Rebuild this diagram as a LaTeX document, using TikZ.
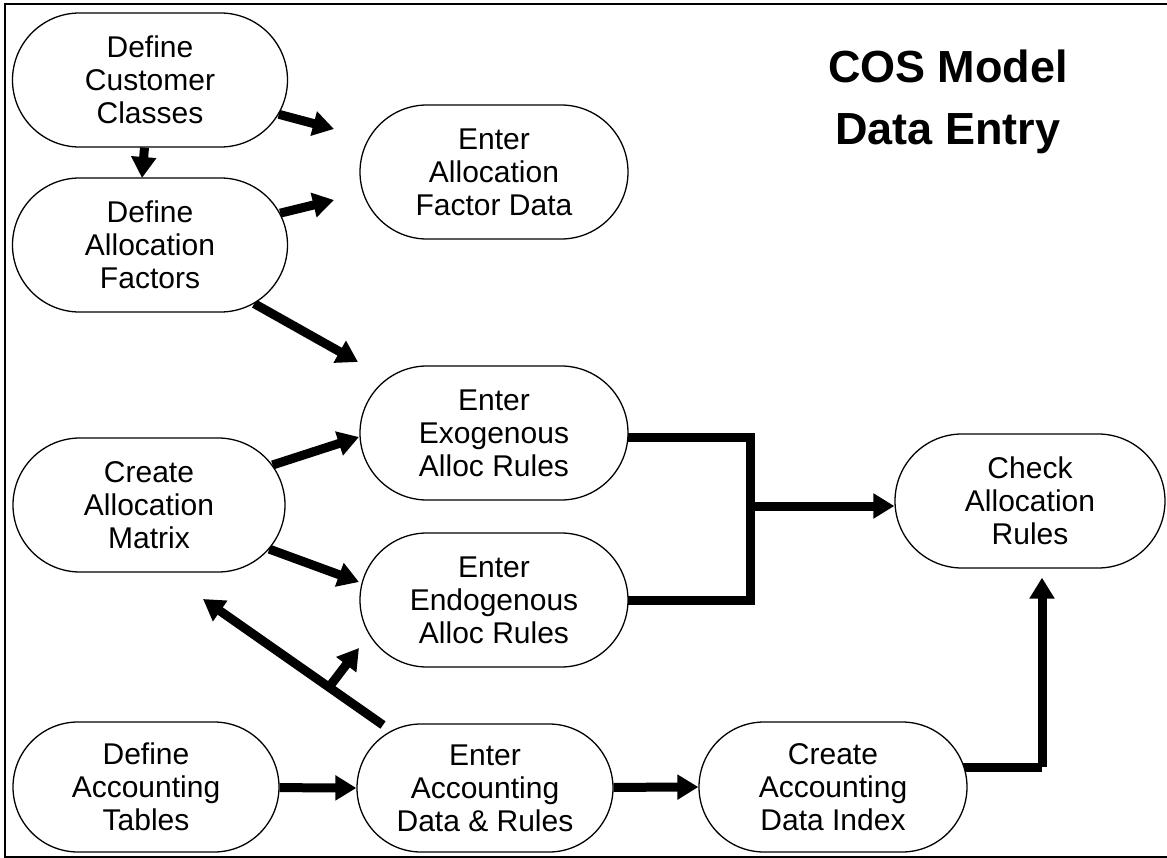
\documentclass[tikz,border=0pt]{standalone}
\usepackage{fontspec}
\setmainfont{Liberation Sans}
\usetikzlibrary{shapes.misc,arrows.meta,backgrounds,calc}
\begin{document}
\begin{tikzpicture}[x=1pt,y=-1pt,
  procbox/.style={rounded rectangle, draw, line width=1.3pt, fill=white,
    minimum width=#1, minimum height=134pt, inner sep=0pt,
    align=center, font=\fontsize{30}{33}\selectfont},
  procbox/.default=270pt,
  flow/.style={line width=9pt, -{Triangle[length=21pt,width=24pt]}},
  flowline/.style={line width=9pt}]
\useasboundingbox (0,0) rectangle (1167,858);
\draw[line width=1.2pt] (1167,4) -- (5,4) -- (5,857) -- (1167,857);

\node[procbox=275pt] (cust) at (150,80) {Define\\Customer\\Classes};
\node[procbox=275pt] (af) at (150,245) {Define\\Allocation\\Factors};
\node[procbox=268pt] (afd) at (494,172) {Enter\\Allocation\\Factor Data};
\node[procbox=268pt] (exo) at (494,433) {Enter\\Exogenous\\Alloc Rules};
\node[procbox=268pt] (endo) at (494,600) {Enter\\Endogenous\\Alloc Rules};
\node[procbox=272pt] (mat) at (149,505) {Create\\Allocation\\Matrix};
\node[procbox=270pt] (check) at (1030,501) {Check\\Allocation\\Rules};
\node[procbox=266pt, minimum height=130pt] (tab) at (146,787) {Define\\Accounting\\Tables};
\node[procbox=256pt, minimum height=128pt] (acc) at (485,788) {Enter\\Accounting\\Data \& Rules};
\node[procbox=268pt, minimum height=130pt] (idx) at (833,787) {Create\\Accounting\\Data Index};

\node[font=\fontsize{45}{50}\selectfont\bfseries] (title1) at (948,66) {COS Model};
\node[font=\fontsize{45}{50}\selectfont\bfseries] (title2) at (948,134) {Data Entry};

\coordinate (t1) at (334,129);
\coordinate (t2) at (142,178);
\coordinate (t3) at (334,200);
\coordinate (t4) at (358,362);
\coordinate (t5) at (359,437);
\coordinate (t6) at (359,582);
\coordinate (s7) at (383,725);
\coordinate (t7) at (203,599);
\coordinate (t8) at (359,648);
\coordinate (jn) at (750,506);
\coordinate (cc) at (1042,767);

\begin{scope}[on background layer]
\draw[flow] (cust) -- (t1);
\draw[flow] (cust) -- (t2);
\draw[flow] (af) -- (t3);
\draw[flow] (af) -- (t4);
\draw[flow] (mat) -- (t5);
\draw[flow] (mat) -- (t6);
\draw[flow] (s7) -- (t7);
\coordinate (br) at ($(s7)!0.3!(t7)$);
\draw[flow] (br) -- (t8);
\draw[flowline] (exo.center |- t5) -- (jn |- t5) -- (jn |- endo.east) -- (endo.center);
\draw[flow] (jn) -- (jn -| check.west);
\draw[flow] (tab) -- (acc.west);
\draw[flow] (acc) -- (idx.west);
\draw[flowline] (idx.center |- cc) -- (cc);
\draw[flow, shorten >=9pt] (cc) -- (cc |- check.south);
\end{scope}
\end{tikzpicture}
\end{document}
